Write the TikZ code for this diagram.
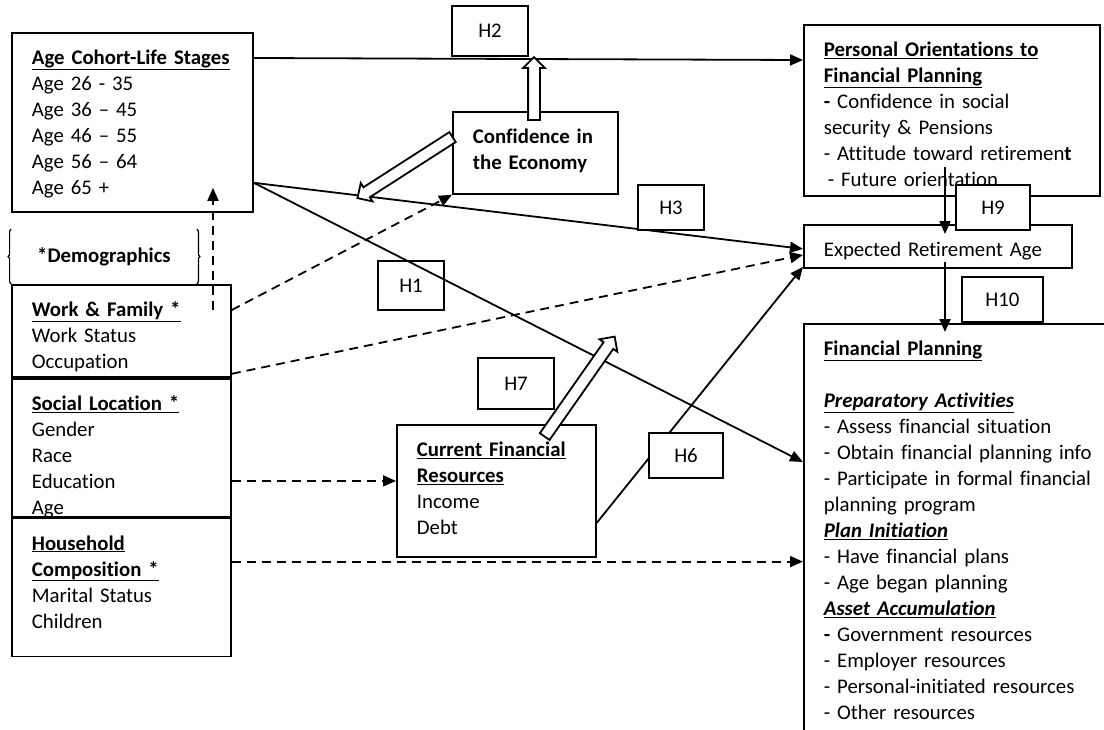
\documentclass[tikz,border=0pt]{standalone}
\usepackage{fontspec}
\setmainfont{Carlito}[Ligatures=NoCommon]
\usetikzlibrary{
        arrows.meta,
        calc,
        decorations.pathreplacing,
        positioning,
        shapes.arrows
    }
\tikzset{>={Triangle[length=13pt,width=11pt]},font=\fontsize{20.8}{26}\selectfont}
\tikzset{box/.style={draw,anchor=north west,inner xsep=20pt,inner ysep=0pt,align=left,text height=31.5pt,text depth=#1}}
\tikzset{hbox/.style={draw,fill=white}}
\tikzset{dashline/.style={dash pattern=on 9pt off 6pt}}
\tikzset{blockarrow/.style={single arrow,draw,fill=white,inner xsep=0pt,inner ysep=5pt,single arrow head extend=5pt}}

\begin{document}
\begin{tikzpicture}[x=1pt,y=-1pt,line width=1.8pt]
                \clip (0,0) rectangle (1104,729);
                % left column
                \node[box=147.5pt,text width=201pt] (age) at (11,32)
                    {\underline{\textbf{Age Cohort-Life Stages}}\\Age 26 - 35\\Age 36 -- 45\\Age 46 -- 55\\Age 56 -- 64\\Age 65 +};
                \node[minimum width=184pt,minimum height=53pt] (demo) at (104,256.5) {\textbf{*Demographics}};
                \node[box=60.5pt,text width=179pt] (work) at (11,284)
                    {\underline{\textbf{Work \& Family *}}\\Work Status\\Occupation};
                \node[box=106.5pt,text width=179pt,below=0pt of work] (social)
                    {\underline{\textbf{Social Location *}}\\Gender\\Race\\Education\\Age};
                \node[box=106.5pt,text width=179pt,below=0pt of social] (household)
                    {\underline{\textbf{Household}}\\\underline{\textbf{Composition *}}\\Marital Status\\Children};
                % middle
                \node[box=50.5pt,text width=125pt] (conf) at (452,111)
                    {\textbf{Confidence in}\\\textbf{the Economy}};
                \node[box=100.5pt,text width=159pt] (cfr) at (396,424)
                    {\underline{\textbf{Current Financial}}\\\underline{\textbf{Resources}}\\Income\\Debt};
                % right column
                \node[box=139.5pt,text width=256pt] (pers) at (803,24)
                    {\underline{\textbf{Personal Orientations to}}\\\underline{\textbf{Financial Planning}}\\
                     \textbf{-} Confidence in social\\security \& Pensions\\
                     - Attitude toward retiremen\textbf{t}\\\hspace*{4pt}- Future orientation};
                \node[box=11.5pt,text width=228pt] (era) at (803,224) {Expected Retirement Age};
                \node[box=430pt,text width=290pt] (fin) at (803,323)
                    {\underline{\textbf{Financial Planning}}\\[26pt]
                     \underline{\textbf{\textit{Preparatory Activities}}}\\
                     - Assess financial situation\\- Obtain financial planning info\\
                     - Participate in formal financial\\planning program\\
                     \underline{\textbf{\textit{Plan Initiation}}}\\
                     - Have financial plans\\- Age began planning\\
                     \underline{\textbf{\textit{Asset Accumulation}}}\\
                     \textbf{-} Government resources\\- Employer resources\\
                     - Personal-initiated resources\\- Other resources};
                \draw[line width=1.2pt,decorate,decoration={brace,amplitude=3pt}] (demo.south west) -- (demo.north west);
                \draw[line width=1.2pt,decorate,decoration={brace,amplitude=3pt}] (demo.north east) -- (demo.south east);
                \node[draw,minimum width=66pt,minimum height=49pt] (h1) at (411,285.5) {H1};
                \path[->]
                    ([yshift=-26pt]age.north east)  edge  ([yshift=-36pt]pers.north west)
                    ([yshift=30pt]age.south east)  edge  ([yshift=-2.5pt]era.west)
                    ([yshift=30pt]age.south east)  edge  ([yshift=-139pt]fin.north west)
                    ([yshift=35pt]cfr.south east)  edge  ([yshift=2pt]era.south west)
                    ([xshift=142pt,yshift=30pt]pers.south west)  edge  ([xshift=142pt,yshift=-10pt]era.north west)
                    ([xshift=142pt,yshift=7pt]era.south west)  edge  ([xshift=142pt,yshift=-9pt]fin.north west)
                    ([xshift=202pt,yshift=-26pt]work.north west)  edge[dashline]  ([xshift=202pt,yshift=25pt]age.south west)
                    ([yshift=-26pt]work.north east)  edge[dashline]  (conf.south west)
                    ([yshift=4pt]work.south east)  edge[dashline]  ([yshift=-8.5pt]era.west)
                    ([yshift=10pt]cfr.west -| social.east)  edge[dashline]  ([yshift=10pt]cfr.west)
                    ([yshift=-44pt]household.north east)  edge[dashline]  ([yshift=-44pt]household.north east -| fin.west)
                    ;
                % hypothesis labels
                \node[hbox,minimum width=76pt,minimum height=50pt] (h2) at (490,31) {H2};
                \node[hbox,minimum width=66pt,minimum height=45pt] (h3) at (671,207.5) {H3};
                \node[hbox,minimum width=74pt,minimum height=45pt] (h9) at (993,207.5) {H9};
                \node[hbox,minimum width=81pt,minimum height=45pt] (h10) at (1002.5,299.5) {H10};
                \node[hbox,minimum width=76pt,minimum height=51pt] (h7) at (516,383.5) {H7};
                \node[hbox,minimum width=74pt,minimum height=45pt] (h6) at (686,455.5) {H6};
                % moderating arrows
                \node[blockarrow,minimum height=63pt,rotate=90] (econup) at (534,91.5) {};
                \node[blockarrow,minimum height=113pt,rotate=212.7] (econdown) at (407.5,166) {};
                \node[blockarrow,minimum height=122pt,rotate=55] (resup) at (578,389) {};
            \end{tikzpicture}
\end{document}
